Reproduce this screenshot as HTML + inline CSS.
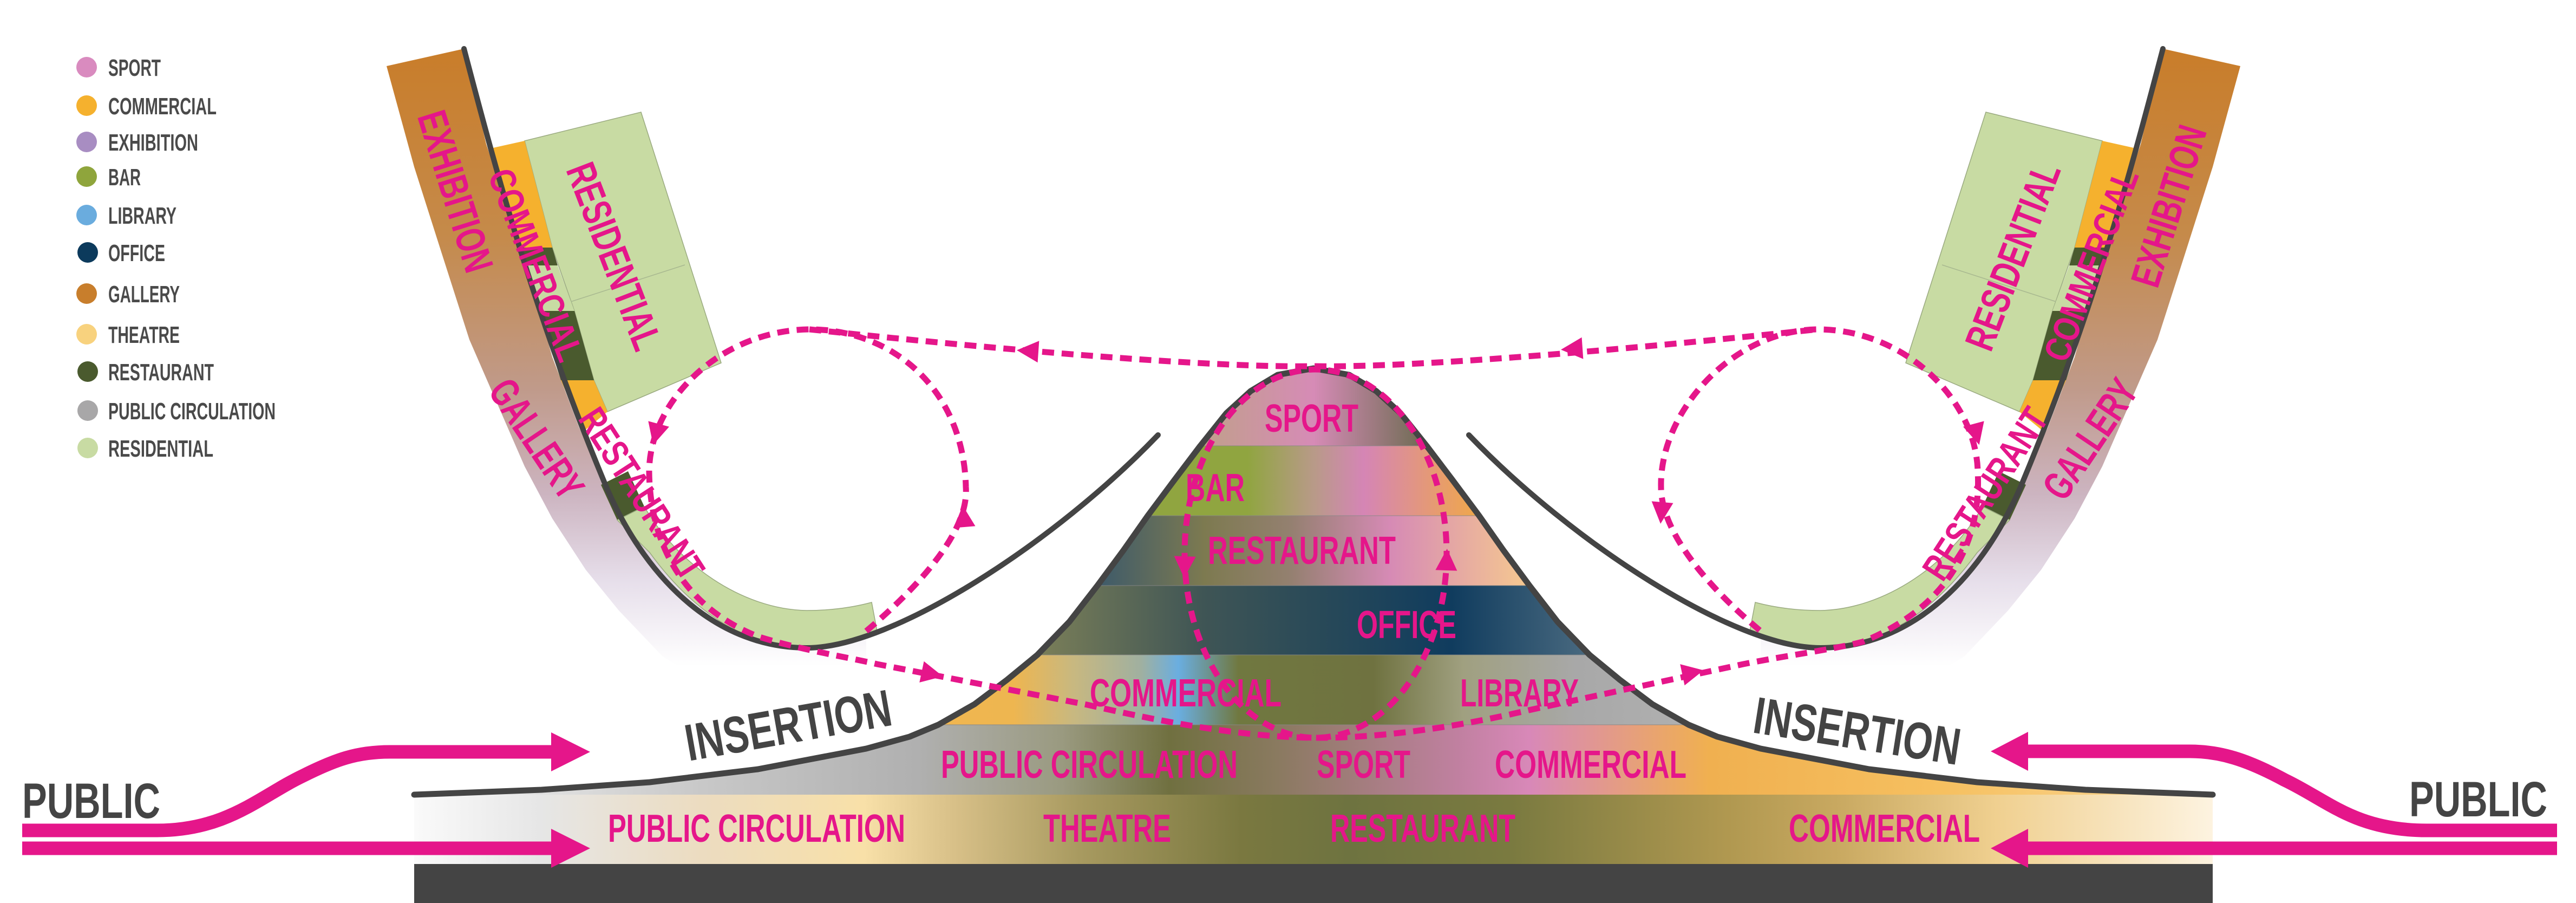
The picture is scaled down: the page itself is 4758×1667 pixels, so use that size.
<!DOCTYPE html>
<html><head><meta charset="utf-8"><style>html,body{margin:0;padding:0;background:#fff}svg{display:block}text{font-family:"Liberation Sans",sans-serif;font-weight:bold}</style></head><body>
<svg width="4758" height="1667" viewBox="0 0 4758 1667" xmlns="http://www.w3.org/2000/svg">
<defs>
<clipPath id="hill"><path d="M765,1467 L1000,1458 1200,1444 1400,1420 1600,1382 1680,1360 1733,1338 1800,1300 1860,1255 1916,1209 1975,1148 2027,1081 2075,1016 2120,952 2170,885 2217,823 2265,763 2310,722 2360,692 2426,680 2492,692 2542,722 2587,763 2635,823 2682,885 2732,952 2777,1016 2825,1081 2877,1148 2936,1209 2992,1255 3052,1300 3119,1338 3172,1360 3252,1382 3452,1420 3652,1444 3852,1458 4087,1467 L4087,1600 765,1600Z"/></clipPath>
<linearGradient id="gS" x1="2217" x2="2636" y1="0" y2="0" gradientUnits="userSpaceOnUse"><stop offset="0" stop-color="#c0a08a"/><stop offset=".5" stop-color="#d68bb6"/><stop offset="1" stop-color="#6b6b50"/></linearGradient>
<linearGradient id="gB" x1="2120" x2="2733" y1="0" y2="0" gradientUnits="userSpaceOnUse"><stop offset="0" stop-color="#90a540"/><stop offset=".3" stop-color="#90a540"/><stop offset=".5" stop-color="#b89a88"/><stop offset=".65" stop-color="#d585b5"/><stop offset="1" stop-color="#f0a848"/></linearGradient>
<linearGradient id="gR" x1="2027" x2="2821" y1="0" y2="0" gradientUnits="userSpaceOnUse"><stop offset="0" stop-color="#3d5a6a"/><stop offset=".25" stop-color="#7d7a50"/><stop offset=".45" stop-color="#948070"/><stop offset=".68" stop-color="#d68ab5"/><stop offset="1" stop-color="#f5c890"/></linearGradient>
<linearGradient id="gO" x1="1916" x2="2936" y1="0" y2="0" gradientUnits="userSpaceOnUse"><stop offset="0" stop-color="#7b7f58"/><stop offset=".3" stop-color="#3f5555"/><stop offset=".5" stop-color="#2a4a58"/><stop offset=".75" stop-color="#103c5e"/><stop offset="1" stop-color="#4a6a80"/></linearGradient>
<linearGradient id="gC" x1="1733" x2="3119" y1="0" y2="0" gradientUnits="userSpaceOnUse"><stop offset="0" stop-color="#f0b650"/><stop offset=".1" stop-color="#eeb650"/><stop offset=".18" stop-color="#c8b880"/><stop offset=".27" stop-color="#a0b0a0"/><stop offset=".32" stop-color="#6aaee0"/><stop offset=".4" stop-color="#707840"/><stop offset=".58" stop-color="#6f7240"/><stop offset=".7" stop-color="#a0a080"/><stop offset=".85" stop-color="#a8a8a8"/><stop offset="1" stop-color="#b0b0b0"/></linearGradient>
<linearGradient id="g2" x1="765" x2="4087" y1="0" y2="0" gradientUnits="userSpaceOnUse"><stop offset="0" stop-color="#f4f4f4"/><stop offset=".16" stop-color="#c8c8c8"/><stop offset=".28" stop-color="#b0b0b0"/><stop offset=".36" stop-color="#9a9a80"/><stop offset=".42" stop-color="#707040"/><stop offset=".48" stop-color="#8a7a60"/><stop offset=".58" stop-color="#c080a0"/><stop offset=".62" stop-color="#d888b8"/><stop offset=".72" stop-color="#f0b050"/><stop offset=".85" stop-color="#f6c060"/><stop offset="1" stop-color="#fad898"/></linearGradient>
<linearGradient id="gBase" x1="765" x2="4087" y1="0" y2="0" gradientUnits="userSpaceOnUse"><stop offset="0" stop-color="#fafafa"/><stop offset=".07" stop-color="#e6e6e6"/><stop offset=".16" stop-color="#ecdcc0"/><stop offset=".25" stop-color="#f8e0a8"/><stop offset=".3" stop-color="#d8c088"/><stop offset=".37" stop-color="#a89a60"/><stop offset=".46" stop-color="#7a7840"/><stop offset=".52" stop-color="#6e7340"/><stop offset=".61" stop-color="#7a7a40"/><stop offset=".73" stop-color="#b09850"/><stop offset=".79" stop-color="#c8a860"/><stop offset=".88" stop-color="#f0d090"/><stop offset="1" stop-color="#fdf3e0"/></linearGradient>
<linearGradient id="gal" x1="0" x2="0" y1="90" y2="1230" gradientUnits="userSpaceOnUse"><stop offset="0" stop-color="#c97d2a"/><stop offset=".3" stop-color="#c58a4a"/><stop offset=".55" stop-color="#c09a8a"/><stop offset=".72" stop-color="#ccb4c0"/><stop offset=".86" stop-color="#e6deea"/><stop offset="1" stop-color="#ffffff"/></linearGradient>
</defs>

<!-- Legend -->
<g font-size="44" fill="#4a4a4a">
<circle cx="160" cy="124" r="19" fill="#D98BBF"/><text x="200" y="140" textLength="97" lengthAdjust="spacingAndGlyphs">SPORT</text>
<circle cx="160" cy="195" r="19" fill="#F5B12E"/><text x="200" y="211" textLength="200" lengthAdjust="spacingAndGlyphs">COMMERCIAL</text>
<circle cx="160" cy="262" r="19" fill="#A88DC2"/><text x="200" y="278" textLength="166" lengthAdjust="spacingAndGlyphs">EXHIBITION</text>
<circle cx="160" cy="326" r="19" fill="#8FA53C"/><text x="200" y="342" textLength="60" lengthAdjust="spacingAndGlyphs">BAR</text>
<circle cx="160" cy="397" r="19" fill="#6AACDE"/><text x="200" y="413" textLength="126" lengthAdjust="spacingAndGlyphs">LIBRARY</text>
<circle cx="162" cy="466" r="19" fill="#0C3A5C"/><text x="200" y="482" textLength="105" lengthAdjust="spacingAndGlyphs">OFFICE</text>
<circle cx="160" cy="542" r="19" fill="#C87E2C"/><text x="200" y="558" textLength="132" lengthAdjust="spacingAndGlyphs">GALLERY</text>
<circle cx="160" cy="617" r="19" fill="#F8D27E"/><text x="200" y="633" textLength="132" lengthAdjust="spacingAndGlyphs">THEATRE</text>
<circle cx="162" cy="686" r="19" fill="#4A5A2E"/><text x="200" y="702" textLength="195" lengthAdjust="spacingAndGlyphs">RESTAURANT</text>
<circle cx="162" cy="758" r="19" fill="#A8A7A8"/><text x="200" y="774" textLength="309" lengthAdjust="spacingAndGlyphs">PUBLIC CIRCULATION</text>
<circle cx="162" cy="827" r="19" fill="#C8DBA3"/><text x="200" y="843" textLength="194" lengthAdjust="spacingAndGlyphs">RESIDENTIAL</text>
</g>

<!-- Side wings -->
<g id="wing">
<path d="M714,122 L857,90 898,266 969,478 1020,659 1070,790 1122,904 1170,980 1224,1042 1327,1148 1410,1185 1490,1196 1600,1169 1600,1320 1530,1340 1428,1318 1327,1276 1224,1212 1143,1127 1082,1052 1020,957 969,861 918,744 867,627 816,468 765,308Z" fill="url(#gal)"/>
<polygon points="969,260 1184,207 1332,670 1122,760 1097,702 1061,574 1020,457" fill="#C8DBA3" stroke="#9aaa80" stroke-width="1.5"/>
<line x1="1051" y1="558" x2="1265" y2="489" stroke="#a8b890" stroke-width="1.5"/>
<polygon points="906,274 969,260 1020,457 959,457" fill="#F5B12E"/>
<polygon points="959,457 1020,457 1030,490 969,490" fill="#4A5A2E"/>
<polygon points="969,490 1030,490 1061,574 995,574" fill="#C8DBA3"/>
<polygon points="995,574 1061,574 1097,702 1036,702" fill="#4A5A2E"/>
<polygon points="1036,702 1097,702 1122,760 1077,797" fill="#F5B12E"/>
<polygon points="1110,895 1160,870 1190,935 1140,960" fill="#4A5A2E"/>
<path d="M1140,960 L1190,935 C1250,1040 1370,1125 1490,1127 C1540,1127 1580,1120 1610,1112 L1620,1165 C1570,1190 1530,1198 1490,1196 C1380,1196 1280,1130 1200,1020 Z" fill="#C8DBA3" stroke="#9aaa80" stroke-width="1.5"/>
<path d="M857,90 C920,330 990,590 1122,904 C1200,1080 1330,1196 1490,1196 C1650,1196 1950,1000 2139,803" fill="none" stroke="#444" stroke-width="10" stroke-linecap="round"/>
</g>
<use href="#wing" transform="translate(4852,0) scale(-1,1)"/>

<!-- wing labels -->
<g fill="#E5168A" font-size="76">
<text transform="translate(842,353) rotate(72.6)" text-anchor="middle" dy="27" textLength="307" lengthAdjust="spacingAndGlyphs">EXHIBITION</text>
<text transform="translate(990,489) rotate(69)" text-anchor="middle" dy="24" font-size="68" textLength="374" lengthAdjust="spacingAndGlyphs">COMMERCIAL</text>
<text transform="translate(1135,473) rotate(69)" text-anchor="middle" dy="27" textLength="363" lengthAdjust="spacingAndGlyphs">RESIDENTIAL</text>
<text transform="translate(992,810) rotate(56)" text-anchor="middle" dy="27" textLength="249" lengthAdjust="spacingAndGlyphs">GALLERY</text>
<text transform="translate(1186,911) rotate(57)" text-anchor="middle" dy="25" font-size="70" textLength="362" lengthAdjust="spacingAndGlyphs">RESTAURANT</text>
<text transform="translate(4005,380) rotate(-72.6)" text-anchor="middle" dy="27" textLength="307" lengthAdjust="spacingAndGlyphs">EXHIBITION</text>
<text transform="translate(3862,489) rotate(-69)" text-anchor="middle" dy="24" font-size="68" textLength="374" lengthAdjust="spacingAndGlyphs">COMMERCIAL</text>
<text transform="translate(3717,473) rotate(-69)" text-anchor="middle" dy="27" textLength="363" lengthAdjust="spacingAndGlyphs">RESIDENTIAL</text>
<text transform="translate(3860,810) rotate(-56)" text-anchor="middle" dy="27" textLength="249" lengthAdjust="spacingAndGlyphs">GALLERY</text>
<text transform="translate(3666,911) rotate(-57)" text-anchor="middle" dy="25" font-size="70" textLength="362" lengthAdjust="spacingAndGlyphs">RESTAURANT</text>
</g>

<!-- Hill bands -->
<g clip-path="url(#hill)">
<rect x="700" y="660" width="3500" height="163" fill="url(#gS)"/>
<rect x="700" y="823" width="3500" height="129" fill="url(#gB)"/>
<rect x="700" y="952" width="3500" height="129" fill="url(#gR)"/>
<rect x="700" y="1081" width="3500" height="128" fill="url(#gO)"/>
<rect x="700" y="1209" width="3500" height="129" fill="url(#gC)"/>
<rect x="700" y="1338" width="3500" height="130" fill="url(#g2)"/>
<g stroke="#888" stroke-width="1.5" opacity=".6"><line x1="700" y1="823" x2="4200" y2="823"/><line x1="700" y1="952" x2="4200" y2="952"/><line x1="700" y1="1081" x2="4200" y2="1081"/><line x1="700" y1="1209" x2="4200" y2="1209"/><line x1="700" y1="1338" x2="4200" y2="1338"/></g>
</g>
<rect x="765" y="1467" width="3322" height="128" fill="url(#gBase)"/>
<rect x="765" y="1595" width="3322" height="72" fill="#444"/>
<polyline points="765,1467 1000,1458 1200,1444 1400,1420 1600,1382 1680,1360 1733,1338 1800,1300 1860,1255 1916,1209 1975,1148 2027,1081 2075,1016 2120,952 2170,885 2217,823 2265,763 2310,722 2360,692 2426,680 2492,692 2542,722 2587,763 2635,823 2682,885 2732,952 2777,1016 2825,1081 2877,1148 2936,1209 2992,1255 3052,1300 3119,1338 3172,1360 3252,1382 3452,1420 3652,1444 3852,1458 4087,1467" fill="none" stroke="#444" stroke-width="11" stroke-linejoin="round" stroke-linecap="round"/>

<!-- dashed loops -->
<g fill="none" stroke="#E5168A" stroke-width="11" stroke-dasharray="22 14">
<ellipse cx="2430" cy="1022" rx="242" ry="340"/>
<path d="M1495,608 C1700,630 2200,680 2426,676 C2650,680 3150,630 3357,608"/>
<path d="M1600,1165 C1700,1080 1790,980 1784,899 C1780,720 1650,608 1495,608 C1330,610 1200,740 1199,870 C1200,1000 1260,1120 1400,1175 C1480,1200 1560,1212 1620,1226 L2008,1301 C2200,1345 2330,1362 2437,1362 C2560,1362 2700,1340 2824,1311 L3220,1226 C3300,1210 3380,1200 3440,1185 C3600,1120 3660,1000 3653,870 C3650,740 3520,608 3357,608 C3200,610 3065,760 3068,899 C3068,980 3150,1080 3252,1165"/>
</g>
<g fill="#E5168A">
<polygon points="22,0 -18,-20 -18,20" transform="translate(1900,648) rotate(184)"/>
<polygon points="22,0 -18,-20 -18,20" transform="translate(2905,644) rotate(176)"/>
<polygon points="22,0 -18,-20 -18,20" transform="translate(1212,800) rotate(105)"/>
<polygon points="22,0 -18,-20 -18,20" transform="translate(1780,955) rotate(-95)"/>
<polygon points="22,0 -18,-20 -18,20" transform="translate(1720,1244) rotate(12)"/>
<polygon points="22,0 -18,-20 -18,20" transform="translate(3125,1242) rotate(-12)"/>
<polygon points="22,0 -18,-20 -18,20" transform="translate(2188,1045) rotate(92)"/>
<polygon points="22,0 -18,-20 -18,20" transform="translate(2672,1035) rotate(-88)"/>
<polygon points="22,0 -18,-20 -18,20" transform="translate(3069,945) rotate(95)"/>
<polygon points="22,0 -18,-20 -18,20" transform="translate(3650,800) rotate(75)"/>
</g>

<!-- hill labels -->
<g fill="#E5168A" font-size="72">
<text x="2336" y="797" textLength="173" lengthAdjust="spacingAndGlyphs">SPORT</text>
<text x="2190" y="925" textLength="109" lengthAdjust="spacingAndGlyphs">BAR</text>
<text x="2231" y="1041" textLength="347" lengthAdjust="spacingAndGlyphs">RESTAURANT</text>
<text x="2506" y="1178" textLength="184" lengthAdjust="spacingAndGlyphs">OFFICE</text>
<text x="2013" y="1304" textLength="354" lengthAdjust="spacingAndGlyphs">COMMERCIAL</text>
<text x="2697" y="1304" textLength="219" lengthAdjust="spacingAndGlyphs">LIBRARY</text>
<text x="1738" y="1436" textLength="548" lengthAdjust="spacingAndGlyphs">PUBLIC CIRCULATION</text>
<text x="2432" y="1436" textLength="173" lengthAdjust="spacingAndGlyphs">SPORT</text>
<text x="2761" y="1436" textLength="354" lengthAdjust="spacingAndGlyphs">COMMERCIAL</text>
<text x="1123" y="1554" textLength="549" lengthAdjust="spacingAndGlyphs">PUBLIC CIRCULATION</text>
<text x="1927" y="1554" textLength="236" lengthAdjust="spacingAndGlyphs">THEATRE</text>
<text x="2457" y="1554" textLength="342" lengthAdjust="spacingAndGlyphs">RESTAURANT</text>
<text x="3304" y="1554" textLength="353" lengthAdjust="spacingAndGlyphs">COMMERCIAL</text>
</g>

<!-- INSERTION / PUBLIC -->
<g fill="#444">
<text transform="translate(1272,1405) rotate(-10)" font-size="96" textLength="385" lengthAdjust="spacingAndGlyphs">INSERTION</text>
<text transform="translate(3235,1352) rotate(9)" font-size="96" textLength="385" lengthAdjust="spacingAndGlyphs">INSERTION</text>
<text x="41" y="1510" font-size="92" textLength="255" lengthAdjust="spacingAndGlyphs">PUBLIC</text>
<text x="4450" y="1507" font-size="92" textLength="255" lengthAdjust="spacingAndGlyphs">PUBLIC</text>
</g>

<!-- big public arrows -->
<g stroke="#E5168A" stroke-width="25" fill="none">
<line x1="41" y1="1566" x2="1030" y2="1566"/>
<path d="M41,1533 L290,1533 C420,1533 480,1470 560,1432 C620,1402 660,1388 720,1388 L1030,1388"/>
<line x1="3735" y1="1566" x2="4723" y2="1566"/>
<path d="M4723,1533 L4482,1533 C4350,1533 4300,1478 4220,1440 C4150,1402 4100,1387 4045,1387 L3735,1387"/>
</g>
<g fill="#E5168A">
<polygon points="1018,1530 1090,1566 1018,1602"/>
<polygon points="1018,1352 1090,1388 1018,1424"/>
<polygon points="3746,1530 3677,1566 3746,1602"/>
<polygon points="3746,1351 3677,1387 3746,1423"/>
</g>
</svg>
</body></html>
